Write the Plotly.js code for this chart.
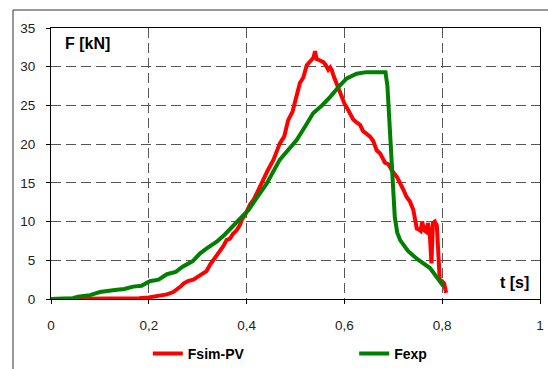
<!DOCTYPE html>
<html>
<head>
<meta charset="utf-8">
<script src="https://cdn.plot.ly/plotly-3.0.1.min.js"></script>
<style>html,body{margin:0;padding:0;background:#fff;}#chart{width:548px;height:369px;}</style>
</head>
<body>
<div id="chart"></div>
<script>
// Fsim-PV (red)
const simT = [0,0.05,0.1,0.15,0.18,0.2,0.22,0.237,0.25,0.257,0.265,0.271,0.28,0.291,0.3,0.311,0.318,0.325,0.332,0.339,0.346,0.352,0.359,0.366,0.372,0.38,0.386,0.39,0.398,0.407,0.415,0.424,0.431,0.444,0.455,0.468,0.477,0.485,0.494,0.502,0.509,0.516,0.523,0.533,0.537,0.54,0.543,0.547,0.552,0.557,0.562,0.567,0.571,0.574,0.578,0.581,0.586,0.591,0.596,0.601,0.606,0.611,0.618,0.625,0.632,0.638,0.645,0.652,0.659,0.666,0.673,0.683,0.69,0.697,0.707,0.714,0.72,0.727,0.734,0.741,0.745,0.748,0.752,0.756,0.759,0.763,0.767,0.771,0.775,0.778,0.781,0.785,0.789,0.792,0.795,0.8,0.804,0.808];
const simF = [0,0,0.02,0.05,0.1,0.2,0.4,0.6,0.9,1.2,1.6,2.0,2.3,2.5,2.9,3.3,3.6,4.4,5.0,5.7,6.2,6.8,7.6,7.8,8.4,8.9,9.5,10.2,11.0,12.2,12.9,14.1,15.2,16.7,18.0,20.1,21.0,23.1,24.2,26.1,27.9,28.6,30.2,30.9,31.2,32.0,31.0,30.9,30.8,30.6,30.2,29.6,29.9,29.6,28.8,28.3,27.6,26.6,25.8,25.1,24.6,23.9,23.2,22.8,22.5,21.7,21.3,21.0,20.4,19.2,18.8,17.6,17.4,16.6,15.8,15.0,14.2,13.2,12.6,11.5,10.3,9.1,9.0,8.8,10.0,8.9,8.7,9.8,8.0,4.6,9.8,10.0,9.5,6.8,2.5,2.3,2.0,0.8];
// Fexp (green)
const expT = [0,0.03,0.045,0.055,0.065,0.08,0.1,0.12,0.135,0.15,0.168,0.185,0.202,0.22,0.237,0.255,0.27,0.29,0.305,0.32,0.339,0.355,0.372,0.39,0.404,0.42,0.441,0.468,0.502,0.52,0.536,0.554,0.571,0.591,0.605,0.625,0.645,0.665,0.684,0.688,0.692,0.695,0.698,0.703,0.708,0.714,0.73,0.75,0.775,0.79,0.802];
const expF = [0,0.05,0.1,0.3,0.4,0.5,0.9,1.0,1.2,1.3,1.6,1.7,2.3,2.5,3.2,3.5,4.2,4.9,5.9,6.6,7.4,8.3,9.4,10.6,11.5,13.0,14.9,18.0,20.5,22.3,24.0,25.0,26.1,27.6,28.5,29.1,29.3,29.3,29.3,27.5,23.0,18.5,14.5,10.6,8.6,7.6,6.2,5.1,4.0,2.8,1.7];

const seriesNames = ['Fsim-PV', 'Fexp'];
const xTicks = [0, 0.2, 0.4, 0.6, 0.8, 1];
const yTicks = [0, 5, 10, 15, 20, 25, 30, 35];

const FONT = '"Liberation Sans", Arial, sans-serif';

const traces = [
  {x: simT, y: simF, name: seriesNames[0], type: 'scatter', mode: 'lines',
   line: {color: '#ff0000', width: 4}, legend: 'legend'},
  {x: expT, y: expF, name: seriesNames[1], type: 'scatter', mode: 'lines',
   line: {color: '#008000', width: 4}, legend: 'legend2'}
];

const axisCommon = {
  showline: true, linecolor: '#000', linewidth: 1, mirror: true,
  showgrid: true, gridcolor: '#555', gridwidth: 1.2, griddash: '10px,5px',
  zeroline: false, ticks: 'outside', ticklen: 4, tickcolor: '#000',
  tickfont: {family: FONT, size: 13.5, color: '#222'}
};

const legendCommon = {
  orientation: 'h', xanchor: 'left', yref: 'container', y: 15 / 369, yanchor: 'middle',
  font: {family: FONT, size: 14, color: '#000', weight: 'bold'},
  bgcolor: 'rgba(0,0,0,0)', borderwidth: 0
};

const layout = {
  width: 548, height: 369,
  margin: {l: 51, r: 8, t: 28, b: 70},
  paper_bgcolor: '#fff', plot_bgcolor: '#fff',
  separators: ',.',
  font: {family: FONT, color: '#000'},
  xaxis: Object.assign({}, axisCommon, {range: [0, 1], tickvals: xTicks, ticklabelstandoff: 10}),
  yaxis: Object.assign({}, axisCommon, {range: [0, 35], tickvals: yTicks, ticklabelstandoff: 8}),
  showlegend: true,
  legend: Object.assign({}, legendCommon, {x: 0.198}),
  legend2: Object.assign({}, legendCommon, {x: 0.620}),
  annotations: [
    {text: '<b>F [kN]</b>', xref: 'paper', yref: 'paper', x: 0.0746, y: 0.941,
     xanchor: 'center', yanchor: 'middle', showarrow: false, font: {family: FONT, size: 16, color: '#000'}},
    {text: '<b>t [s]</b>', xref: 'paper', yref: 'paper', x: 0.947, y: 0.0627,
     xanchor: 'center', yanchor: 'middle', showarrow: false, font: {family: FONT, size: 16, color: '#000'}}
  ],
  shapes: [
    {type: 'line', xref: 'paper', yref: 'paper', x0: -0.0777, x1: -0.0777, y0: -0.3, y1: 1.0664,
     line: {color: '#333', width: 1}},
    {type: 'line', xref: 'paper', yref: 'paper', x0: -0.0777, x1: 1.03, y0: 1.0664, y1: 1.0664,
     line: {color: '#333', width: 1}}
  ]
};

Plotly.newPlot('chart', traces, layout, {displayModeBar: false, staticPlot: true});
</script>
</body>
</html>
